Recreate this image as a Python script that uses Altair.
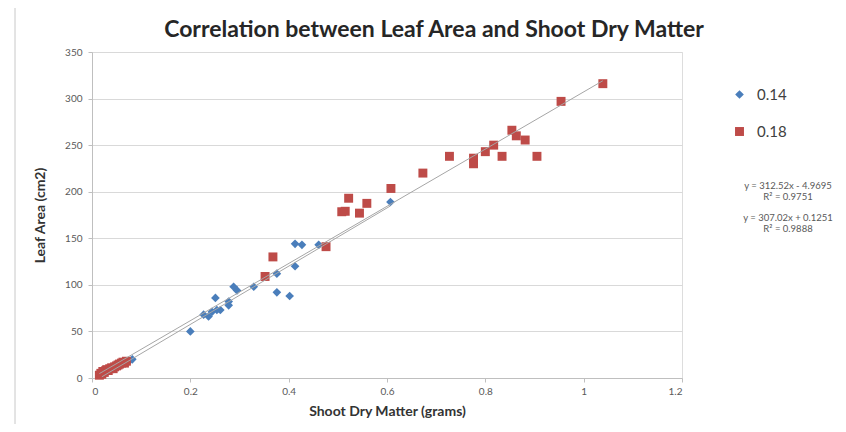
import altair as alt
import pandas as pd

# ---- data ----
series_names = ["0.14", "0.18"]

blue_x = [0.020, 0.030, 0.045, 0.060, 0.075, 0.082, 0.200, 0.227, 0.237, 0.244, 0.251, 0.254,
          0.261, 0.278, 0.278, 0.288, 0.295, 0.329, 0.376, 0.376, 0.402, 0.413, 0.413, 0.427,
          0.461, 0.607]
blue_y = [4, 6, 10, 14, 18, 20, 50, 68, 66, 71, 86, 73,
          73, 82, 78, 98, 94, 98, 112, 92, 88, 120, 144, 143,
          143, 189]

red_x = [0.015, 0.018, 0.020, 0.022, 0.025, 0.028, 0.030, 0.033, 0.036, 0.040, 0.043, 0.046,
         0.050, 0.053, 0.056, 0.060, 0.063, 0.066, 0.070,
         0.352, 0.368, 0.476, 0.508, 0.515, 0.522, 0.544, 0.559, 0.608, 0.673, 0.727, 0.776,
         0.776, 0.800, 0.817, 0.834, 0.854, 0.863, 0.881, 0.905, 0.954, 1.039]
red_y = [3, 5, 4, 7, 6, 8, 9, 8, 10, 11, 10, 12,
         13, 14, 15, 16, 17, 16, 18,
         109, 130, 141, 178.5, 179, 193, 177, 187.5, 203.5, 220, 238, 236,
         230, 243, 250, 238, 266, 260, 255.5, 238, 297, 316]

# trendline coefficients (slope, intercept) and labels
trend_slope = [312.52, 307.02]
trend_intercept = [-4.9695, 0.1251]
eq_labels = ["y = 312.52x - 4.9695", "R² = 0.9751", "y = 307.02x + 0.1251", "R² = 0.9888"]

title_text = "Correlation between Leaf Area and Shoot Dry Matter"
x_ticks = [0, 0.2, 0.4, 0.6, 0.8, 1.0, 1.2]
y_ticks = [0, 50, 100, 150, 200, 250, 300, 350]

FONT = "Lato"

pts = pd.concat([
    pd.DataFrame({"x": blue_x, "y": blue_y, "series": series_names[0]}),
    pd.DataFrame({"x": red_x, "y": red_y, "series": series_names[1]}),
], ignore_index=True)

rows = []
for name, xs, m, b in [(series_names[0], blue_x, trend_slope[0], trend_intercept[0]),
                       (series_names[1], red_x, trend_slope[1], trend_intercept[1])]:
    for xv in (min(xs), max(xs)):
        rows.append({"x": xv, "y": m * xv + b, "series": name})
trend = pd.DataFrame(rows)

xscale = alt.Scale(domain=[0, 1.2], nice=False, zero=True)
yscale = alt.Scale(domain=[0, 350], nice=False)

xaxis = alt.Axis(values=x_ticks, format="~g", title="Shoot Dry Matter (grams)", grid=False,
                 domainColor="#bfbfbf", tickColor="#bfbfbf", tickSize=4,
                 labelColor="#595959", labelFontSize=10, labelFont=FONT, labelPadding=4,
                 titleFont=FONT, titleFontSize=14, titleFontWeight="bold", titleColor="#333333",
                 titlePadding=8)
yaxis = alt.Axis(values=y_ticks, title="Leaf Area (cm2)", grid=True, gridColor="#d9d9d9",
                 domainColor="#bfbfbf", tickColor="#bfbfbf", tickSize=4,
                 labelColor="#595959", labelFontSize=10, labelFont=FONT, labelPadding=6,
                 titleFont=FONT, titleFontSize=14, titleFontWeight="bold", titleColor="#333333",
                 titlePadding=17)

color_scale = alt.Scale(domain=series_names, range=["#4a7ebb", "#be4b48"])
shape_scale = alt.Scale(domain=series_names, range=["diamond", "square"])

points = alt.Chart(pts).mark_point(filled=True, opacity=1, strokeWidth=0.5).encode(
    x=alt.X("x:Q", scale=xscale, axis=xaxis),
    y=alt.Y("y:Q", scale=yscale, axis=yaxis),
    color=alt.Color("series:N", scale=color_scale,
                    legend=alt.Legend(title=None, orient="none", legendX=640, legendY=35,
                                      labelFont=FONT, labelFontSize=15, labelColor="#404040",
                                      symbolSize=70, rowPadding=21, labelOffset=10)),
    shape=alt.Shape("series:N", scale=shape_scale, legend=None),
    size=alt.Size("series:N", scale=alt.Scale(domain=series_names, range=[75, 80]), legend=None),
)

lines = alt.Chart(trend).mark_line(color="#a6a6a6", strokeWidth=1).encode(
    x=alt.X("x:Q", scale=xscale),
    y=alt.Y("y:Q", scale=yscale),
    detail="series:N",
)

eq_y = [134, 145, 166, 177]
eq_layers = []
for i, lab in enumerate(eq_labels):
    eq_layers.append(
        alt.Chart(pd.DataFrame({"t": [lab]})).mark_text(
            font=FONT, fontSize=9.5, color="#595959", align="center", baseline="middle"
        ).encode(text="t:N", x=alt.value(696), y=alt.value(eq_y[i]))
    )

title = alt.Chart(pd.DataFrame({"t": [title_text]})).mark_text(
    font=FONT, fontSize=23, fontWeight="bold", color="#262626", align="center", baseline="middle"
).encode(text="t:N", x=alt.value(342), y=alt.value(-22))

# faint chart-area border on the left
border = alt.Chart(pd.DataFrame({"k": [0]})).mark_rule(color="#c8c8c8", strokeWidth=1).encode(
    x=alt.value(-77), y=alt.value(-44), y2=alt.value(380)
)

chart = alt.layer(border, points, lines, title, *eq_layers).properties(
    width=590, height=326,
    autosize=alt.AutoSizeParams(type="none"),
    padding={"left": 84, "top": 44, "right": 156, "bottom": 46},
).configure_view(stroke=None).configure(background="white")

chart.save("out.html", embed_options={"renderer": "svg", "actions": False})
